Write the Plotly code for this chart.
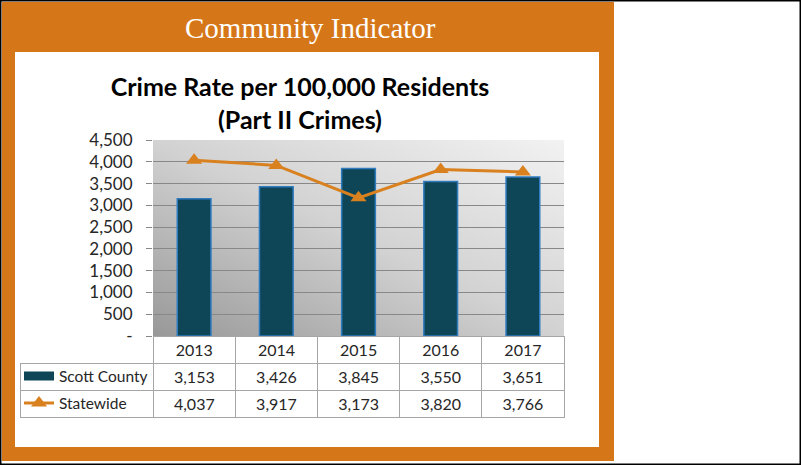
import base64
import plotly.graph_objects as go

W, H = 801, 465

years = ["2013", "2014", "2015", "2016", "2017"]
scott_county = [3153, 3426, 3845, 3550, 3651]
statewide = [4037, 3917, 3173, 3820, 3766]
y_tickvals = [0, 500, 1000, 1500, 2000, 2500, 3000, 3500, 4000, 4500]
y_ticktext = ["-", "500", "1,000", "1,500", "2,000", "2,500", "3,000", "3,500", "4,000", "4,500"]

ORANGE_PANEL = "#D57719"
LINE_ORANGE = "#D9801F"
BAR_FILL = "#0E4657"
BAR_EDGE = "#2E7BC0"
TXT = "#262626"
GRID = "#888888"
FONT = "Lato"
CLEAR = "rgba(0,0,0,0)"

def px(x):
    return x / W

def py(y):
    return 1 - y / H

fig = go.Figure()

fig.add_trace(go.Bar(
    x=years, y=scott_county, name="Scott County",
    marker=dict(color=BAR_FILL, line=dict(color=BAR_EDGE, width=1.5)),
    showlegend=False, xaxis="x", yaxis="y",
))
fig.add_trace(go.Scatter(
    x=years, y=statewide, name="Statewide", mode="lines+markers",
    line=dict(color=LINE_ORANGE, width=3),
    marker=dict(symbol="triangle-up", size=14, color=LINE_ORANGE),
    legend="legend2", xaxis="x", yaxis="y",
))
# legend swatch for the bars (wide rectangle like the source)
fig.add_trace(go.Scatter(
    x=[None], y=[None], name="Scott County", mode="lines",
    line=dict(color=BAR_FILL, width=9), legend="legend", xaxis="x", yaxis="y",
))

# data table
header_vals = [""] + years
cell_vals = [["", ""]] + [[f"{a:,}", f"{b:,}"] for a, b in zip(scott_county, statewide)]
fig.add_trace(go.Table(
    domain=dict(x=[px(20), px(564)], y=[py(420), py(336)]),
    columnwidth=[133, 82, 82, 82, 82, 82],
    header=dict(values=header_vals, height=27, align="center",
                fill=dict(color=[CLEAR] + ["white"] * 5),
                line=dict(color=[CLEAR] + ["#A6A6A6"] * 5, width=1),
                font=dict(family=FONT, size=16, color=TXT)),
    cells=dict(values=cell_vals, height=27, align="center",
               fill=dict(color="white"),
               line=dict(color="#A6A6A6", width=1),
               font=dict(family=FONT, size=16, color=TXT)),
))

shapes = [
    dict(type="rect", xref="paper", yref="paper", x0=0, x1=1, y0=0, y1=1,
         line=dict(color="black", width=3), fillcolor="white", layer="below"),
    dict(type="rect", xref="paper", yref="paper", x0=px(2), x1=px(614), y0=py(461), y1=py(2),
         line=dict(width=0), fillcolor=ORANGE_PANEL, layer="below"),
    dict(type="rect", xref="paper", yref="paper", x0=px(15), x1=px(599), y0=py(447), y1=py(52),
         line=dict(width=0), fillcolor="white", layer="below"),
]

# diagonal gray gradient for the plot area background
svg = ('<svg xmlns="http://www.w3.org/2000/svg" width="410" height="196" '
       'preserveAspectRatio="none" viewBox="0 0 410 196">'
       '<defs><linearGradient id="g" x1="0" y1="1" x2="1" y2="0">'
       '<stop offset="0" stop-color="#989898"/>'
       '<stop offset="0.5" stop-color="#d2d2d2"/>'
       '<stop offset="1" stop-color="#f2f2f2"/>'
       '</linearGradient></defs>'
       '<rect width="410" height="196" fill="url(#g)"/></svg>')
svg_uri = "data:image/svg+xml;base64," + base64.b64encode(svg.encode()).decode()

fig.update_layout(
    width=W, height=H, margin=dict(l=0, r=0, t=0, b=0, autoexpand=False),
    paper_bgcolor="white", plot_bgcolor=CLEAR,
    shapes=shapes,
    images=[dict(source=svg_uri, xref="x domain", yref="y domain", x=0, y=1,
                 sizex=1, sizey=1, xanchor="left", yanchor="top",
                 sizing="stretch", layer="below")],
    bargap=0.59,
    xaxis=dict(domain=[px(153), px(564)], showticklabels=False, showgrid=False,
               zeroline=False, showline=False, ticks="", range=[-0.5, 4.5]),
    yaxis=dict(domain=[py(336), py(140)], range=[0, 4500], tickvals=y_tickvals,
               ticktext=y_ticktext, showgrid=True, gridcolor=GRID, gridwidth=1,
               zeroline=False, showline=False, ticks="outside", ticklen=6,
               ticklabelstandoff=10,
               tickcolor=GRID, tickfont=dict(family=FONT, size=17, color=TXT)),
    title=dict(text="<b>Crime Rate per 100,000 Residents<br>(Part II Crimes)</b>",
               x=px(300), xanchor="center", y=py(96), yanchor="top",
               font=dict(family=FONT, size=25, color="black")),
    legend=dict(x=px(19), y=py(376.5), xanchor="left", yanchor="middle",
                bgcolor=CLEAR, font=dict(family=FONT, size=15.5, color=TXT)),
    legend2=dict(x=px(19), y=py(403.5), xanchor="left", yanchor="middle",
                 bgcolor=CLEAR, font=dict(family=FONT, size=15.5, color=TXT)),
    annotations=[dict(text="Community Indicator", xref="paper", yref="paper",
                      x=px(310), y=py(28), xanchor="center", yanchor="middle",
                      showarrow=False,
                      font=dict(family="Liberation Serif", size=29, color="white"))],
)

fig.write_html("out.html")
